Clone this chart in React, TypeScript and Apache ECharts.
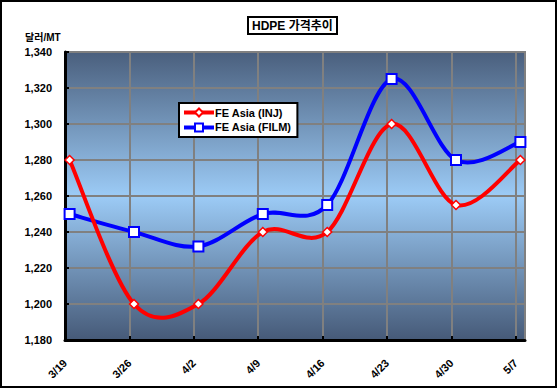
import React, { useEffect, useRef } from "react";
import * as echarts from "echarts";

const dateLabels = ["3/19", "3/26", "4/2", "4/9", "4/16", "4/23", "4/30", "5/7"];
const dayIndex = [0, 7, 14, 21, 28, 35, 42, 49];
const injValues = [1280, 1200, 1200, 1240, 1240, 1300, 1255, 1280];
const filmValues = [1250, 1240, 1232, 1250, 1255, 1325, 1280, 1290];
const seriesNames = ["FE Asia (INJ)", "FE Asia (FILM)"];
const seriesColors = ["#ff0000", "#0000ff"];
const titleText = "HDPE 가격추이";
const unitText = "달러/MT";

const FONT = "'Liberation Sans', Arial, 'Noto Sans CJK KR', sans-serif";

// Excel-like smoothed curve (Catmull-Rom as cubic Bezier), drawn through the axes
function curveSeries(values: number[], color: string, z: number) {
  const data = values.map((v, i) => [dayIndex[i] + 0.5, v]);
  return {
    type: "custom",
    coordinateSystem: "cartesian2d",
    encode: { x: 0, y: 1 },
    data,
    silent: true,
    z,
    clip: true,
    renderItem: (params: any, api: any) => {
      const i = params.dataIndex;
      const n = data.length;
      if (i >= n - 1) return null;
      const p = (k: number) => api.coord(data[Math.max(0, Math.min(n - 1, k))]);
      const p0 = p(i - 1);
      const p1 = p(i);
      const p2 = p(i + 1);
      const p3 = p(i + 2);
      const c1 = [p1[0] + (p2[0] - p0[0]) / 6, p1[1] + (p2[1] - p0[1]) / 6];
      const c2 = [p2[0] - (p3[0] - p1[0]) / 6, p2[1] - (p3[1] - p1[1]) / 6];
      return {
        type: "bezierCurve",
        shape: {
          x1: p1[0], y1: p1[1],
          x2: p2[0], y2: p2[1],
          cpx1: c1[0], cpy1: c1[1],
          cpx2: c2[0], cpy2: c2[1],
        },
        style: { fill: "none", stroke: color, lineWidth: 4, lineCap: "round" },
      };
    },
  };
}

export default function App() {
  const ref = useRef<HTMLDivElement>(null);
  useEffect(() => {
    const chart = echarts.init(ref.current!, undefined, { renderer: "svg" });
    const toPoints = (vals: number[]) => vals.map((v, i) => [dayIndex[i] + 0.5, v]);
    chart.setOption({
      animation: false,
      backgroundColor: "#ffffff",
      textStyle: { fontFamily: FONT },
      title: {
        text: titleText,
        left: 248,
        top: 17,
        padding: [3, 4, 2, 4],
        borderColor: "#000",
        borderWidth: 2,
        backgroundColor: "#fff",
        textStyle: { fontSize: 12, fontWeight: "bold", color: "#000", fontFamily: FONT },
      },
      legend: {
        orient: "vertical",
        left: 179,
        top: 103,
        backgroundColor: "#fff",
        borderColor: "#000",
        borderWidth: 2,
        padding: [4, 6, 4, 3],
        itemGap: 4,
        itemWidth: 30,
        itemHeight: 10,
        textStyle: { fontSize: 11, fontWeight: "bold", color: "#000", fontFamily: FONT, padding: [0, 0, 0, -4] },
        data: seriesNames.map((name, k) => ({
          name,
          lineStyle: { color: seriesColors[k], width: 4, opacity: 1 },
        })),
      },
      graphic: [
        {
          type: "rect",
          shape: { x: 1, y: 1, width: 555, height: 386 },
          style: { fill: "none", stroke: "#000", lineWidth: 2 },
          silent: true,
        },
        {
          type: "text",
          left: 25,
          top: 32,
          style: { text: unitText, font: `bold 10px ${FONT}`, fill: "#000" },
        },
      ],
      grid: {
        left: 65,
        right: 33,
        top: 52,
        bottom: 49,
        show: true,
        borderColor: "#808080",
        borderWidth: 2,
        backgroundColor: new echarts.graphic.LinearGradient(0, 0, 0, 1, [
          { offset: 0, color: "#4a5f7d" },
          { offset: 0.5, color: "#9ccbf6" },
          { offset: 1, color: "#465a78" },
        ]),
      },
      xAxis: {
        type: "value",
        min: 0,
        max: 50,
        interval: 7,
        axisLine: { show: true, lineStyle: { color: "#000", width: 3 } },
        axisTick: { show: true, length: 4, inside: true, lineStyle: { color: "#000", width: 2 } },
        splitLine: { show: true, lineStyle: { color: "#808080", width: 2 } },
        axisLabel: {
          rotate: 45,
          margin: 21,
          fontSize: 11,
          fontWeight: "bold",
          color: "#000",
          fontFamily: FONT,
          showMaxLabel: false,
          formatter: (v: number) => {
            const i = dayIndex.indexOf(v);
            return i >= 0 ? dateLabels[i] : "";
          },
        },
      },
      yAxis: {
        type: "value",
        min: 1180,
        max: 1340,
        interval: 20,
        axisLine: { show: true, lineStyle: { color: "#000", width: 3 } },
        axisTick: { show: true, length: 4, inside: true, lineStyle: { color: "#000", width: 2 } },
        splitLine: { show: true, lineStyle: { color: "#808080", width: 2 } },
        axisLabel: {
          margin: 13,
          fontSize: 11,
          fontWeight: "bold",
          color: "#000",
          fontFamily: FONT,
          formatter: (v: number) => v.toLocaleString("en-US"),
        },
      },
      series: [
        curveSeries(filmValues, seriesColors[1], 2),
        curveSeries(injValues, seriesColors[0], 3),
        {
          name: seriesNames[0],
          type: "line",
          data: toPoints(injValues),
          symbol: "diamond",
          symbolSize: 9,
          lineStyle: { color: seriesColors[0], width: 4, opacity: 0 },
          itemStyle: { color: "#fff", borderColor: seriesColors[0], borderWidth: 1.5 },
          z: 5,
        },
        {
          name: seriesNames[1],
          type: "line",
          data: toPoints(filmValues),
          symbol: "rect",
          symbolSize: 10,
          lineStyle: { color: seriesColors[1], width: 4, opacity: 0 },
          itemStyle: { color: "#fff", borderColor: seriesColors[1], borderWidth: 2 },
          z: 4,
        },
      ],
    });
    return () => chart.dispose();
  }, []);
  return (
    <div
      ref={ref}
      style={{ position: "absolute", left: 0, top: 0, width: 558, height: 389 }}
    />
  );
}
